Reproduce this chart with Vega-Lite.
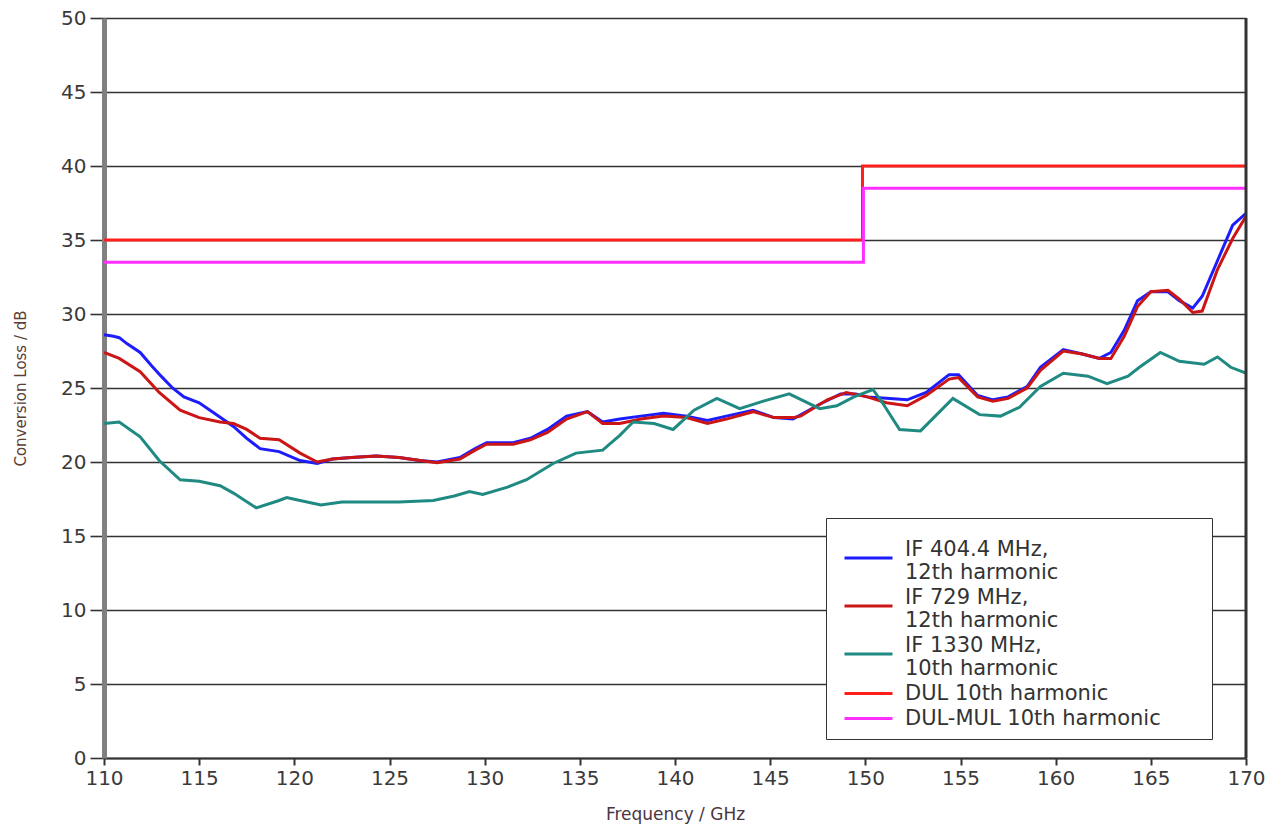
{
  "$schema": "https://vega.github.io/schema/vega-lite/v6.json",
  "width": 1142,
  "height": 740,
  "autosize": {"type": "none"},
  "padding": {"left": 104, "top": 18, "right": 33, "bottom": 69},
  "background": "white",
  "config": {
    "view": {"stroke": null},
    "font": "DejaVu Sans"
  },
  "datasets": {
    "curves": [
      {"f":110.0,"v":28.6,"s":"IF 404.4 MHz,|12th harmonic"},
      {"f":110.5,"v":28.5,"s":"IF 404.4 MHz,|12th harmonic"},
      {"f":110.8,"v":28.4,"s":"IF 404.4 MHz,|12th harmonic"},
      {"f":111.2,"v":28.0,"s":"IF 404.4 MHz,|12th harmonic"},
      {"f":111.9,"v":27.4,"s":"IF 404.4 MHz,|12th harmonic"},
      {"f":112.5,"v":26.5,"s":"IF 404.4 MHz,|12th harmonic"},
      {"f":113.0,"v":25.8,"s":"IF 404.4 MHz,|12th harmonic"},
      {"f":113.6,"v":25.0,"s":"IF 404.4 MHz,|12th harmonic"},
      {"f":114.2,"v":24.4,"s":"IF 404.4 MHz,|12th harmonic"},
      {"f":115.0,"v":24.0,"s":"IF 404.4 MHz,|12th harmonic"},
      {"f":115.8,"v":23.3,"s":"IF 404.4 MHz,|12th harmonic"},
      {"f":116.8,"v":22.4,"s":"IF 404.4 MHz,|12th harmonic"},
      {"f":117.5,"v":21.6,"s":"IF 404.4 MHz,|12th harmonic"},
      {"f":118.2,"v":20.9,"s":"IF 404.4 MHz,|12th harmonic"},
      {"f":119.2,"v":20.7,"s":"IF 404.4 MHz,|12th harmonic"},
      {"f":120.3,"v":20.1,"s":"IF 404.4 MHz,|12th harmonic"},
      {"f":121.2,"v":19.9,"s":"IF 404.4 MHz,|12th harmonic"},
      {"f":122.0,"v":20.2,"s":"IF 404.4 MHz,|12th harmonic"},
      {"f":123.0,"v":20.3,"s":"IF 404.4 MHz,|12th harmonic"},
      {"f":124.3,"v":20.4,"s":"IF 404.4 MHz,|12th harmonic"},
      {"f":125.5,"v":20.3,"s":"IF 404.4 MHz,|12th harmonic"},
      {"f":126.6,"v":20.1,"s":"IF 404.4 MHz,|12th harmonic"},
      {"f":127.5,"v":20.0,"s":"IF 404.4 MHz,|12th harmonic"},
      {"f":128.7,"v":20.3,"s":"IF 404.4 MHz,|12th harmonic"},
      {"f":129.5,"v":20.9,"s":"IF 404.4 MHz,|12th harmonic"},
      {"f":130.1,"v":21.3,"s":"IF 404.4 MHz,|12th harmonic"},
      {"f":131.5,"v":21.3,"s":"IF 404.4 MHz,|12th harmonic"},
      {"f":132.4,"v":21.6,"s":"IF 404.4 MHz,|12th harmonic"},
      {"f":133.3,"v":22.2,"s":"IF 404.4 MHz,|12th harmonic"},
      {"f":134.3,"v":23.1,"s":"IF 404.4 MHz,|12th harmonic"},
      {"f":135.4,"v":23.4,"s":"IF 404.4 MHz,|12th harmonic"},
      {"f":136.2,"v":22.7,"s":"IF 404.4 MHz,|12th harmonic"},
      {"f":137.1,"v":22.9,"s":"IF 404.4 MHz,|12th harmonic"},
      {"f":138.2,"v":23.1,"s":"IF 404.4 MHz,|12th harmonic"},
      {"f":139.4,"v":23.3,"s":"IF 404.4 MHz,|12th harmonic"},
      {"f":140.6,"v":23.1,"s":"IF 404.4 MHz,|12th harmonic"},
      {"f":141.7,"v":22.8,"s":"IF 404.4 MHz,|12th harmonic"},
      {"f":142.7,"v":23.1,"s":"IF 404.4 MHz,|12th harmonic"},
      {"f":144.1,"v":23.5,"s":"IF 404.4 MHz,|12th harmonic"},
      {"f":145.2,"v":23.0,"s":"IF 404.4 MHz,|12th harmonic"},
      {"f":146.2,"v":22.9,"s":"IF 404.4 MHz,|12th harmonic"},
      {"f":147.6,"v":23.9,"s":"IF 404.4 MHz,|12th harmonic"},
      {"f":148.7,"v":24.6,"s":"IF 404.4 MHz,|12th harmonic"},
      {"f":149.5,"v":24.6,"s":"IF 404.4 MHz,|12th harmonic"},
      {"f":150.1,"v":24.4,"s":"IF 404.4 MHz,|12th harmonic"},
      {"f":151.1,"v":24.3,"s":"IF 404.4 MHz,|12th harmonic"},
      {"f":152.2,"v":24.2,"s":"IF 404.4 MHz,|12th harmonic"},
      {"f":153.2,"v":24.7,"s":"IF 404.4 MHz,|12th harmonic"},
      {"f":154.4,"v":25.9,"s":"IF 404.4 MHz,|12th harmonic"},
      {"f":154.9,"v":25.9,"s":"IF 404.4 MHz,|12th harmonic"},
      {"f":155.9,"v":24.5,"s":"IF 404.4 MHz,|12th harmonic"},
      {"f":156.7,"v":24.2,"s":"IF 404.4 MHz,|12th harmonic"},
      {"f":157.5,"v":24.4,"s":"IF 404.4 MHz,|12th harmonic"},
      {"f":158.5,"v":25.1,"s":"IF 404.4 MHz,|12th harmonic"},
      {"f":159.2,"v":26.4,"s":"IF 404.4 MHz,|12th harmonic"},
      {"f":160.4,"v":27.6,"s":"IF 404.4 MHz,|12th harmonic"},
      {"f":161.4,"v":27.3,"s":"IF 404.4 MHz,|12th harmonic"},
      {"f":162.3,"v":27.0,"s":"IF 404.4 MHz,|12th harmonic"},
      {"f":162.9,"v":27.4,"s":"IF 404.4 MHz,|12th harmonic"},
      {"f":163.6,"v":28.9,"s":"IF 404.4 MHz,|12th harmonic"},
      {"f":164.3,"v":30.9,"s":"IF 404.4 MHz,|12th harmonic"},
      {"f":165.0,"v":31.5,"s":"IF 404.4 MHz,|12th harmonic"},
      {"f":165.9,"v":31.5,"s":"IF 404.4 MHz,|12th harmonic"},
      {"f":166.5,"v":30.9,"s":"IF 404.4 MHz,|12th harmonic"},
      {"f":167.2,"v":30.4,"s":"IF 404.4 MHz,|12th harmonic"},
      {"f":167.7,"v":31.2,"s":"IF 404.4 MHz,|12th harmonic"},
      {"f":168.5,"v":33.6,"s":"IF 404.4 MHz,|12th harmonic"},
      {"f":169.3,"v":36.0,"s":"IF 404.4 MHz,|12th harmonic"},
      {"f":170.0,"v":36.8,"s":"IF 404.4 MHz,|12th harmonic"},

      {"f":110.0,"v":27.4,"s":"IF 729 MHz,|12th harmonic"},
      {"f":110.8,"v":27.0,"s":"IF 729 MHz,|12th harmonic"},
      {"f":111.9,"v":26.1,"s":"IF 729 MHz,|12th harmonic"},
      {"f":112.9,"v":24.7,"s":"IF 729 MHz,|12th harmonic"},
      {"f":114.0,"v":23.5,"s":"IF 729 MHz,|12th harmonic"},
      {"f":115.0,"v":23.0,"s":"IF 729 MHz,|12th harmonic"},
      {"f":116.1,"v":22.7,"s":"IF 729 MHz,|12th harmonic"},
      {"f":116.8,"v":22.6,"s":"IF 729 MHz,|12th harmonic"},
      {"f":117.5,"v":22.2,"s":"IF 729 MHz,|12th harmonic"},
      {"f":118.2,"v":21.6,"s":"IF 729 MHz,|12th harmonic"},
      {"f":119.2,"v":21.5,"s":"IF 729 MHz,|12th harmonic"},
      {"f":120.3,"v":20.6,"s":"IF 729 MHz,|12th harmonic"},
      {"f":121.2,"v":20.0,"s":"IF 729 MHz,|12th harmonic"},
      {"f":122.0,"v":20.2,"s":"IF 729 MHz,|12th harmonic"},
      {"f":123.0,"v":20.3,"s":"IF 729 MHz,|12th harmonic"},
      {"f":124.3,"v":20.4,"s":"IF 729 MHz,|12th harmonic"},
      {"f":125.5,"v":20.3,"s":"IF 729 MHz,|12th harmonic"},
      {"f":126.6,"v":20.1,"s":"IF 729 MHz,|12th harmonic"},
      {"f":127.5,"v":19.95,"s":"IF 729 MHz,|12th harmonic"},
      {"f":128.7,"v":20.2,"s":"IF 729 MHz,|12th harmonic"},
      {"f":129.5,"v":20.8,"s":"IF 729 MHz,|12th harmonic"},
      {"f":130.1,"v":21.2,"s":"IF 729 MHz,|12th harmonic"},
      {"f":131.5,"v":21.2,"s":"IF 729 MHz,|12th harmonic"},
      {"f":132.4,"v":21.5,"s":"IF 729 MHz,|12th harmonic"},
      {"f":133.3,"v":22.0,"s":"IF 729 MHz,|12th harmonic"},
      {"f":134.3,"v":22.9,"s":"IF 729 MHz,|12th harmonic"},
      {"f":135.4,"v":23.4,"s":"IF 729 MHz,|12th harmonic"},
      {"f":136.2,"v":22.6,"s":"IF 729 MHz,|12th harmonic"},
      {"f":137.1,"v":22.6,"s":"IF 729 MHz,|12th harmonic"},
      {"f":138.2,"v":22.9,"s":"IF 729 MHz,|12th harmonic"},
      {"f":139.4,"v":23.1,"s":"IF 729 MHz,|12th harmonic"},
      {"f":140.6,"v":23.0,"s":"IF 729 MHz,|12th harmonic"},
      {"f":141.7,"v":22.6,"s":"IF 729 MHz,|12th harmonic"},
      {"f":142.7,"v":22.9,"s":"IF 729 MHz,|12th harmonic"},
      {"f":144.1,"v":23.4,"s":"IF 729 MHz,|12th harmonic"},
      {"f":145.2,"v":23.0,"s":"IF 729 MHz,|12th harmonic"},
      {"f":146.2,"v":23.0,"s":"IF 729 MHz,|12th harmonic"},
      {"f":146.6,"v":23.1,"s":"IF 729 MHz,|12th harmonic"},
      {"f":148.0,"v":24.2,"s":"IF 729 MHz,|12th harmonic"},
      {"f":149.0,"v":24.7,"s":"IF 729 MHz,|12th harmonic"},
      {"f":150.1,"v":24.4,"s":"IF 729 MHz,|12th harmonic"},
      {"f":151.1,"v":24.0,"s":"IF 729 MHz,|12th harmonic"},
      {"f":152.2,"v":23.8,"s":"IF 729 MHz,|12th harmonic"},
      {"f":153.2,"v":24.5,"s":"IF 729 MHz,|12th harmonic"},
      {"f":154.4,"v":25.6,"s":"IF 729 MHz,|12th harmonic"},
      {"f":154.9,"v":25.7,"s":"IF 729 MHz,|12th harmonic"},
      {"f":155.9,"v":24.4,"s":"IF 729 MHz,|12th harmonic"},
      {"f":156.7,"v":24.1,"s":"IF 729 MHz,|12th harmonic"},
      {"f":157.5,"v":24.3,"s":"IF 729 MHz,|12th harmonic"},
      {"f":158.5,"v":25.0,"s":"IF 729 MHz,|12th harmonic"},
      {"f":159.2,"v":26.2,"s":"IF 729 MHz,|12th harmonic"},
      {"f":160.4,"v":27.5,"s":"IF 729 MHz,|12th harmonic"},
      {"f":161.4,"v":27.3,"s":"IF 729 MHz,|12th harmonic"},
      {"f":162.3,"v":27.0,"s":"IF 729 MHz,|12th harmonic"},
      {"f":162.9,"v":27.0,"s":"IF 729 MHz,|12th harmonic"},
      {"f":163.6,"v":28.5,"s":"IF 729 MHz,|12th harmonic"},
      {"f":164.3,"v":30.5,"s":"IF 729 MHz,|12th harmonic"},
      {"f":165.0,"v":31.5,"s":"IF 729 MHz,|12th harmonic"},
      {"f":165.9,"v":31.6,"s":"IF 729 MHz,|12th harmonic"},
      {"f":166.5,"v":31.0,"s":"IF 729 MHz,|12th harmonic"},
      {"f":167.2,"v":30.1,"s":"IF 729 MHz,|12th harmonic"},
      {"f":167.7,"v":30.2,"s":"IF 729 MHz,|12th harmonic"},
      {"f":168.5,"v":33.0,"s":"IF 729 MHz,|12th harmonic"},
      {"f":169.3,"v":35.1,"s":"IF 729 MHz,|12th harmonic"},
      {"f":170.0,"v":36.6,"s":"IF 729 MHz,|12th harmonic"},

      {"f":110.0,"v":22.6,"s":"IF 1330 MHz,|10th harmonic"},
      {"f":110.8,"v":22.7,"s":"IF 1330 MHz,|10th harmonic"},
      {"f":111.9,"v":21.7,"s":"IF 1330 MHz,|10th harmonic"},
      {"f":112.9,"v":20.1,"s":"IF 1330 MHz,|10th harmonic"},
      {"f":114.0,"v":18.8,"s":"IF 1330 MHz,|10th harmonic"},
      {"f":115.0,"v":18.7,"s":"IF 1330 MHz,|10th harmonic"},
      {"f":116.1,"v":18.4,"s":"IF 1330 MHz,|10th harmonic"},
      {"f":116.8,"v":17.9,"s":"IF 1330 MHz,|10th harmonic"},
      {"f":118.0,"v":16.9,"s":"IF 1330 MHz,|10th harmonic"},
      {"f":119.2,"v":17.4,"s":"IF 1330 MHz,|10th harmonic"},
      {"f":119.6,"v":17.6,"s":"IF 1330 MHz,|10th harmonic"},
      {"f":120.3,"v":17.4,"s":"IF 1330 MHz,|10th harmonic"},
      {"f":121.4,"v":17.1,"s":"IF 1330 MHz,|10th harmonic"},
      {"f":122.5,"v":17.3,"s":"IF 1330 MHz,|10th harmonic"},
      {"f":123.8,"v":17.3,"s":"IF 1330 MHz,|10th harmonic"},
      {"f":125.5,"v":17.3,"s":"IF 1330 MHz,|10th harmonic"},
      {"f":127.3,"v":17.4,"s":"IF 1330 MHz,|10th harmonic"},
      {"f":128.4,"v":17.7,"s":"IF 1330 MHz,|10th harmonic"},
      {"f":129.2,"v":18.0,"s":"IF 1330 MHz,|10th harmonic"},
      {"f":129.9,"v":17.8,"s":"IF 1330 MHz,|10th harmonic"},
      {"f":131.2,"v":18.3,"s":"IF 1330 MHz,|10th harmonic"},
      {"f":132.2,"v":18.8,"s":"IF 1330 MHz,|10th harmonic"},
      {"f":133.6,"v":19.9,"s":"IF 1330 MHz,|10th harmonic"},
      {"f":134.8,"v":20.6,"s":"IF 1330 MHz,|10th harmonic"},
      {"f":136.2,"v":20.8,"s":"IF 1330 MHz,|10th harmonic"},
      {"f":137.1,"v":21.8,"s":"IF 1330 MHz,|10th harmonic"},
      {"f":137.8,"v":22.7,"s":"IF 1330 MHz,|10th harmonic"},
      {"f":138.9,"v":22.6,"s":"IF 1330 MHz,|10th harmonic"},
      {"f":139.9,"v":22.2,"s":"IF 1330 MHz,|10th harmonic"},
      {"f":141.0,"v":23.5,"s":"IF 1330 MHz,|10th harmonic"},
      {"f":142.2,"v":24.3,"s":"IF 1330 MHz,|10th harmonic"},
      {"f":143.4,"v":23.6,"s":"IF 1330 MHz,|10th harmonic"},
      {"f":144.6,"v":24.1,"s":"IF 1330 MHz,|10th harmonic"},
      {"f":146.0,"v":24.6,"s":"IF 1330 MHz,|10th harmonic"},
      {"f":147.6,"v":23.6,"s":"IF 1330 MHz,|10th harmonic"},
      {"f":148.5,"v":23.8,"s":"IF 1330 MHz,|10th harmonic"},
      {"f":149.4,"v":24.4,"s":"IF 1330 MHz,|10th harmonic"},
      {"f":150.4,"v":24.9,"s":"IF 1330 MHz,|10th harmonic"},
      {"f":150.9,"v":24.0,"s":"IF 1330 MHz,|10th harmonic"},
      {"f":151.8,"v":22.2,"s":"IF 1330 MHz,|10th harmonic"},
      {"f":152.9,"v":22.1,"s":"IF 1330 MHz,|10th harmonic"},
      {"f":154.6,"v":24.3,"s":"IF 1330 MHz,|10th harmonic"},
      {"f":156.0,"v":23.2,"s":"IF 1330 MHz,|10th harmonic"},
      {"f":157.1,"v":23.1,"s":"IF 1330 MHz,|10th harmonic"},
      {"f":158.1,"v":23.7,"s":"IF 1330 MHz,|10th harmonic"},
      {"f":159.2,"v":25.1,"s":"IF 1330 MHz,|10th harmonic"},
      {"f":160.4,"v":26.0,"s":"IF 1330 MHz,|10th harmonic"},
      {"f":161.7,"v":25.8,"s":"IF 1330 MHz,|10th harmonic"},
      {"f":162.7,"v":25.3,"s":"IF 1330 MHz,|10th harmonic"},
      {"f":163.8,"v":25.8,"s":"IF 1330 MHz,|10th harmonic"},
      {"f":164.4,"v":26.4,"s":"IF 1330 MHz,|10th harmonic"},
      {"f":165.5,"v":27.4,"s":"IF 1330 MHz,|10th harmonic"},
      {"f":166.5,"v":26.8,"s":"IF 1330 MHz,|10th harmonic"},
      {"f":167.8,"v":26.6,"s":"IF 1330 MHz,|10th harmonic"},
      {"f":168.5,"v":27.1,"s":"IF 1330 MHz,|10th harmonic"},
      {"f":169.2,"v":26.4,"s":"IF 1330 MHz,|10th harmonic"},
      {"f":170.0,"v":26.0,"s":"IF 1330 MHz,|10th harmonic"},

      {"f":110.0,"v":35,"s":"DUL 10th harmonic"},
      {"f":149.85,"v":35,"s":"DUL 10th harmonic"},
      {"f":149.85,"v":40,"s":"DUL 10th harmonic"},
      {"f":170.0,"v":40,"s":"DUL 10th harmonic"},

      {"f":110.0,"v":33.5,"s":"DUL-MUL 10th harmonic"},
      {"f":149.9,"v":33.5,"s":"DUL-MUL 10th harmonic"},
      {"f":149.9,"v":38.5,"s":"DUL-MUL 10th harmonic"},
      {"f":170.0,"v":38.5,"s":"DUL-MUL 10th harmonic"}
    ],
    "edge": [{"f": 170}]
  },
  "layer": [
    {
      "data": {"name": "curves"},
      "mark": {"type": "line", "strokeWidth": 3, "clip": true},
      "encoding": {
        "x": {
          "field": "f", "type": "quantitative",
          "scale": {"domain": [110, 170], "nice": false, "zero": false},
          "axis": {
            "title": "Frequency / GHz",
            "values": [110,115,120,125,130,135,140,145,150,155,160,165,170],
            "grid": false,
            "domainColor": "#333", "domainWidth": 2,
            "tickColor": "#333", "tickWidth": 2, "tickSize": 7,
            "labelFont": "DejaVu Sans", "labelFontSize": 20, "labelColor": "#3a3a3a",
            "labelPadding": 3, "labelFlush": false,
            "titleFont": "DejaVu Sans", "titleFontSize": 17, "titleFontWeight": "normal",
            "titleColor": "#4a3540", "titlePadding": 18
          }
        },
        "y": {
          "field": "v", "type": "quantitative",
          "scale": {"domain": [0, 50], "nice": false},
          "axis": {
            "title": "Conversion Loss / dB",
            "values": [0,5,10,15,20,25,30,35,40,45,50],
            "grid": true, "gridColor": "#333", "gridWidth": 1.6, "gridOpacity": 1,
            "domainColor": "#808080", "domainWidth": 5,
            "tickColor": "#333", "tickWidth": 1.6, "tickSize": 14,
            "labelFont": "DejaVu Sans", "labelFontSize": 20, "labelColor": "#3a3a3a",
            "labelPadding": 4,
            "titleFont": "DejaVu Sans", "titleFontSize": 15, "titleFontWeight": "normal",
            "titleColor": "#5a4035", "titlePadding": 32
          }
        },
        "color": {
          "field": "s", "type": "nominal",
          "scale": {
            "domain": ["IF 404.4 MHz,|12th harmonic", "IF 729 MHz,|12th harmonic", "IF 1330 MHz,|10th harmonic", "DUL 10th harmonic", "DUL-MUL 10th harmonic"],
            "range": ["#1c1cff", "#cc1616", "#1f8a82", "#ff1e1e", "#ff30ff"]
          },
          "legend": {
            "title": " ",
            "titleFontSize": 1,
            "titlePadding": 7,
            "orient": "none",
            "legendX": 722,
            "legendY": 500,
            "symbolType": "M-2,0H2",
            "symbolSize": 576,
            "symbolStrokeWidth": 3,
            "symbolOffset": 19,
            "labelFont": "DejaVu Sans",
            "labelFontSize": 21,
            "labelColor": "#333",
            "labelOffset": 23,
            "labelLimit": 400,
            "labelExpr": "split(datum.label, '|')",
            "rowPadding": 1,
            "padding": 10,
            "strokeColor": "#333",
            "fillColor": "white",
            "encode": {
              "symbols": {
                "update": {
                  "shape": {"signal": "indexof(datum.value, '|') >= 0 ? 'M-2,0.7H2M27.25,0.7' : 'M-2,0H2M27.25,0'"}
                }
              }
            }
          }
        },
        "order": {"value": null}
      }
    },
    {
      "data": {"name": "edge"},
      "mark": {"type": "rule", "color": "#333", "strokeWidth": 3},
      "encoding": {"x": {"field": "f", "type": "quantitative"}}
    }
  ]
}
